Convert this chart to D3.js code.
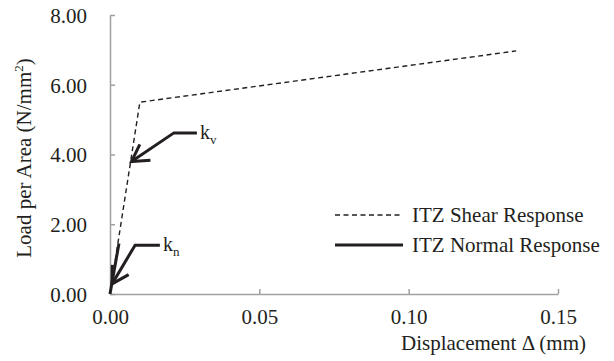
<!DOCTYPE html>
<html>
<head>
<meta charset="utf-8">
<script src="https://cdn.jsdelivr.net/npm/d3@7"></script>
<style>
body { margin: 0; background: #fff; }
svg text { font-family: 'Liberation Serif', Tinos, 'Times New Roman', Times, 'DejaVu Serif', serif !important; fill: #231f20; }
</style>
</head>
<body>
<svg width="614" height="361"></svg>
<script>
// data
var shear_x = [0, 0.010, 0.136];
var shear_y = [0, 5.50, 6.97];
var normal_x = [0, 0.003];
var normal_y = [0, 1.45];

var x_ticks = [0, 0.05, 0.10, 0.15];
var y_ticks = [0, 2, 4, 6, 8];

// annotation arrows: tip, elbow, end (data units)
var kv_arrow = [[0.0072, 3.80], [0.0214, 4.62], [0.0291, 4.62]];
var kn_arrow = [[0.0007, 0.29], [0.0084, 1.40], [0.0167, 1.40]];

var series_names = ['ITZ Shear Response', 'ITZ Normal Response'];

var svg = d3.select('svg');
var x = d3.scaleLinear().domain([0, 0.15]).range([110, 558]);
var y = d3.scaleLinear().domain([0, 8]).range([294, 15]);
var fmt = d3.format('.2f');
var axis_col = '#a0a0a0';
var serif = "'Liberation Serif', Tinos, 'Times New Roman', Times, 'DejaVu Serif', serif";

// axes
var gx = svg.append('g').attr('transform', 'translate(0,294)')
    .call(d3.axisBottom(x).tickValues(x_ticks).tickSizeInner(-5).tickSizeOuter(0).tickFormat(fmt));
var gy = svg.append('g').attr('transform', 'translate(110,0)')
    .call(d3.axisLeft(y).tickValues(y_ticks).tickSizeInner(-5).tickSizeOuter(0).tickFormat(fmt));

[gx, gy].forEach(function(g){
    g.attr('font-family', serif);
    g.select('.domain').attr('stroke', axis_col).attr('stroke-width', 1.5);
    g.selectAll('.tick line').attr('stroke', axis_col).attr('stroke-width', 1.5);
    g.selectAll('.tick text')
        .attr('font-size', 21)
        .attr('fill', '#231f20');
});
gx.selectAll('.tick text').attr('y', 30).attr('dy', 0);
gy.selectAll('.tick text').attr('x', -23).attr('dy', '0.35em');

// series
var line = d3.line()
    .x(function(d){ return x(d[0]); })
    .y(function(d){ return y(d[1]); });

var shear = shear_x.map(function(v, i){ return [v, shear_y[i]]; });
var normal = normal_x.map(function(v, i){ return [v, normal_y[i]]; });

svg.append('path').datum(shear)
    .attr('d', line)
    .attr('fill', 'none')
    .attr('stroke', '#231f20')
    .attr('stroke-width', 1.4)
    .attr('stroke-dasharray', '5,3.5');

svg.append('path').datum(normal)
    .attr('d', line)
    .attr('fill', 'none')
    .attr('stroke', '#231f20')
    .attr('stroke-width', 3);

// arrows with open heads
function arrow(pts, sub){
    svg.append('path').datum(pts)
        .attr('d', line)
        .attr('fill', 'none')
        .attr('stroke', '#231f20')
        .attr('stroke-width', 3)
        .attr('stroke-linejoin', 'miter');

    var tx = x(pts[0][0]), ty = y(pts[0][1]);
    var ex = x(pts[1][0]), ey = y(pts[1][1]);
    var ang = Math.atan2(ey - ty, ex - tx);
    var len = 19, spread = Math.PI / 6;
    var head = [ang - spread, ang + spread].map(function(a){
        return [tx + len * Math.cos(a), ty + len * Math.sin(a)];
    });
    svg.append('path')
        .attr('d', 'M' + head[0] + 'L' + tx + ',' + ty + 'L' + head[1])
        .attr('fill', 'none')
        .attr('stroke', '#231f20')
        .attr('stroke-width', 3)
        .attr('stroke-linejoin', 'miter');

    var lab = svg.append('text')
        .attr('x', x(pts[2][0]) + 3)
        .attr('y', y(pts[2][1]) + 6)
        .attr('font-size', 20)
        .text('k');
    lab.append('tspan').attr('font-size', 13).attr('dy', 5).text(sub);
}
arrow(kv_arrow, 'v');
arrow(kn_arrow, 'n');

// legend
var legend = svg.append('g');
series_names.forEach(function(name, i){
    var ly = 215 + i * 30;
    legend.append('line')
        .attr('x1', 335).attr('x2', 403)
        .attr('y1', ly).attr('y2', ly)
        .attr('stroke', '#231f20')
        .attr('stroke-width', i == 0 ? 1.4 : 3)
        .attr('stroke-dasharray', i == 0 ? '5,3.5' : null);
    legend.append('text')
        .attr('x', 412).attr('y', ly + 7)
        .attr('font-size', 21)
        .text(name);
});

// axis titles
svg.append('text')
    .attr('x', 401).attr('y', 350)
    .attr('font-size', 21)
    .text('Displacement \u0394 (mm)');

var yt = svg.append('text')
    .attr('transform', 'translate(31,158) rotate(-90)')
    .attr('text-anchor', 'middle')
    .attr('font-size', 21)
    .text('Load per Area (N/mm');
yt.append('tspan').attr('font-size', 13).attr('dy', -8).text('2');
yt.append('tspan').attr('dy', 8).text(')');
</script>
</body>
</html>
